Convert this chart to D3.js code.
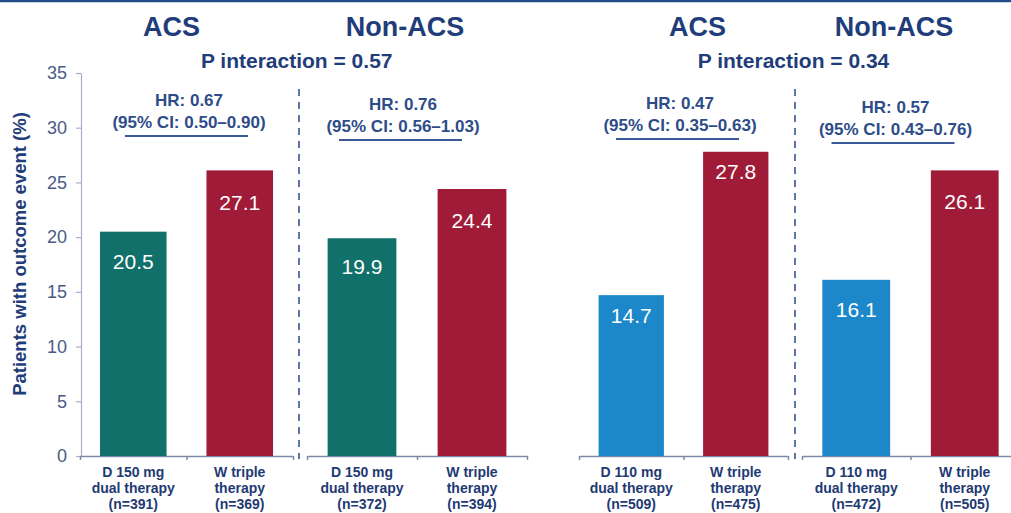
<!DOCTYPE html>
<html>
<head>
<meta charset="utf-8">
<script src="https://cdn.jsdelivr.net/npm/d3@7"></script>
<style>
  html, body { margin: 0; padding: 0; background: #ffffff; }
  svg { display: block; font-family: "Liberation Sans", Arial, sans-serif; }
</style>
</head>
<body>
<svg id="chart" width="1011" height="513"></svg>
<script>
// ---------------- DATA ----------------
const panelTitles = ["ACS", "Non-ACS", "ACS", "Non-ACS"];
const pInteraction = ["P interaction = 0.57", "P interaction = 0.34"];
const hrLabels = ["HR: 0.67", "HR: 0.76", "HR: 0.47", "HR: 0.57"];
const ciLabels = ["(95% CI: 0.50\u20130.90)", "(95% CI: 0.56\u20131.03)", "(95% CI: 0.35\u20130.63)", "(95% CI: 0.43\u20130.76)"];
const dualNames = ["D 150 mg", "D 150 mg", "D 110 mg", "D 110 mg"];
const dualN = [391, 372, 509, 472];
const tripleN = [369, 394, 475, 505];
// bar heights
const dualValues = [20.5, 19.9, 14.7, 16.1];
const tripleValues = [26.1, 24.4, 27.8, 26.1]; // first bar drawn at ~26.1 in the source although it is labelled 27.1
// printed value labels
const dualValueLabels = ["20.5", "19.9", "14.7", "16.1"];
const tripleValueLabels = ["27.1", "24.4", "27.8", "26.1"];
const yTicks = [0, 5, 10, 15, 20, 25, 30, 35];
const yLabel = "Patients with outcome event (%)";

// ---------------- LAYOUT ----------------
const segRanges = [[80, 293], [307, 527], [579, 788], [802, 1019]];
const titleX = [171.5, 405, 697.5, 894];
const pX = [296.7, 793.5];
const annX = [189, 403, 680, 895.5];
const annY = [106, 110, 109, 113];
const dualLabelDy = [37, 35.7, 27.7, 37];
const tripleLabelDy = [40, 39, 27.7, 38.4];
const dividerX = [299, 795];

const navy = "#1f3d7a";
const annColor = "#2e4c88";
const colDual = ["#117069", "#117069", "#1c87c9", "#1c87c9"];
const colTriple = "#a01b37";

const svg = d3.select("#chart");

// top rule
svg.append("line").attr("x1", 0).attr("x2", 1011).attr("y1", 1).attr("y2", 1)
  .attr("stroke", "#234b8c").attr("stroke-width", 2.5);

const y = d3.scaleLinear().domain([0, 35]).range([456, 73]);

// y axis
const yAxis = svg.append("g").attr("transform", "translate(81,0)")
  .call(d3.axisLeft(y).tickValues(yTicks).tickSize(5).tickSizeOuter(0).tickPadding(9));
yAxis.select(".domain").attr("stroke", "#a9afc6").attr("stroke-width", 1.2);
yAxis.selectAll(".tick line").attr("stroke", "#a9afc6").attr("stroke-width", 1.2);
yAxis.selectAll(".tick text").attr("fill", "#4a5a86").attr("font-size", 18)
  .attr("font-family", "'Liberation Sans', Arial, sans-serif");

svg.append("text")
  .attr("transform", "translate(26,254) rotate(-90)")
  .attr("text-anchor", "middle")
  .attr("font-size", 18.5).attr("font-weight", "bold").attr("fill", navy)
  .text(yLabel);

// panels
panelTitles.forEach((t, i) => {
  const [x0, x1] = segRanges[i];
  const xb = d3.scaleBand().domain(["dual", "triple"]).range([x0, x1])
    .paddingInner(0.375).paddingOuter(0.1875);

  // x axis segment
  const xs = d3.scaleLinear().domain([0, 2]).range([x0, x1]);
  const xa = svg.append("g").attr("transform", "translate(0,456)")
    .call(d3.axisBottom(xs).tickValues([0, 1, 2]).tickSize(4).tickSizeOuter(0).tickFormat(""));
  xa.select(".domain").attr("stroke", "#7f88aa").attr("stroke-width", 1.5);
  xa.selectAll(".tick line").attr("stroke", "#7f88aa").attr("stroke-width", 1.5);

  const bars = [
    { key: "dual", v: dualValues[i], lab: dualValueLabels[i], c: colDual[i], dy: dualLabelDy[i],
      lines: [dualNames[i], "dual therapy", "(n=" + dualN[i] + ")"] },
    { key: "triple", v: tripleValues[i], lab: tripleValueLabels[i], c: colTriple, dy: tripleLabelDy[i],
      lines: ["W triple", "therapy", "(n=" + tripleN[i] + ")"] }
  ];

  bars.forEach(b => {
    svg.append("rect")
      .attr("x", xb(b.key)).attr("width", xb.bandwidth())
      .attr("y", y(b.v)).attr("height", y(0) - y(b.v))
      .attr("fill", b.c);
    svg.append("text")
      .attr("x", xb(b.key) + xb.bandwidth() / 2)
      .attr("y", y(b.v) + b.dy)
      .attr("text-anchor", "middle").attr("font-size", 21).attr("fill", "#ffffff")
      .text(b.lab);
    const tl = svg.append("text").attr("text-anchor", "middle")
      .attr("font-size", 14).attr("font-weight", "bold").attr("fill", "#1f3a72");
    b.lines.forEach((ln, k) => {
      tl.append("tspan").attr("x", xb(b.key) + xb.bandwidth() / 2).attr("y", 477 + k * 16).text(ln);
    });
  });

  // title
  svg.append("text").attr("x", titleX[i]).attr("y", 36).attr("text-anchor", "middle")
    .attr("font-size", 27).attr("font-weight", "bold").attr("fill", navy).text(t);

  // HR annotation
  svg.append("text").attr("x", annX[i]).attr("y", annY[i]).attr("text-anchor", "middle")
    .attr("font-size", 17).attr("font-weight", "bold").attr("fill", annColor).text(hrLabels[i]);
  svg.append("text").attr("x", annX[i]).attr("y", annY[i] + 21.5).attr("text-anchor", "middle")
    .attr("font-size", 17).attr("font-weight", "bold").attr("fill", annColor).text(ciLabels[i]);
  svg.append("line")
    .attr("x1", annX[i] - 2.5 - 61.5).attr("x2", annX[i] - 2.5 + 61.5)
    .attr("y1", annY[i] + 30).attr("y2", annY[i] + 30)
    .attr("stroke", "#3a5a9c").attr("stroke-width", 2);
});

pInteraction.forEach((p, j) => {
  svg.append("text").attr("x", pX[j]).attr("y", 68).attr("text-anchor", "middle")
    .attr("font-size", 21).attr("font-weight", "bold").attr("fill", navy).text(p);
});

dividerX.forEach(x => {
  svg.append("line").attr("x1", x).attr("x2", x).attr("y1", 89).attr("y2", 459)
    .attr("stroke", "#2a4a8a").attr("stroke-width", 1.5).attr("stroke-dasharray", "7,6");
});
</script>
</body>
</html>
